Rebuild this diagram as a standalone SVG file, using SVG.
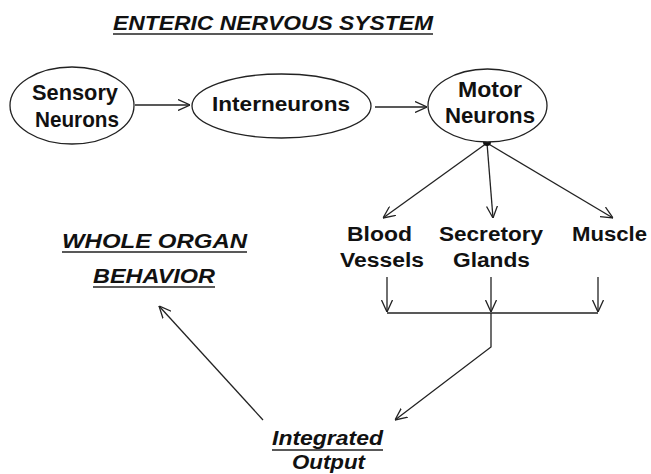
<svg xmlns="http://www.w3.org/2000/svg" width="651" height="474" viewBox="0 0 651 474">
<style>
.t{font-family:"Liberation Sans",Arial,sans-serif;font-weight:bold;fill:#111;text-anchor:middle}
.i{font-style:italic}
.n{fill:#fff;stroke:#222;stroke-width:1.3}
.c{fill:none;stroke:#222;stroke-width:1.3}
.u{stroke:#222;stroke-width:1.6}
</style>
<defs>
<marker id="ah" viewBox="0 0 12 12" refX="12" refY="6" markerWidth="12" markerHeight="12" markerUnits="userSpaceOnUse" orient="auto">
<path d="M0,0.5 L12,6 L0,11.5" fill="none" stroke="#222" stroke-width="1.3"/>
</marker>
</defs>
<rect width="651" height="474" fill="#fff"/>
<g id="title">
<text class="t i" x="273" y="30" font-size="20" textLength="320" lengthAdjust="spacingAndGlyphs">ENTERIC NERVOUS SYSTEM</text>
<line class="u" x1="113" y1="34" x2="433" y2="34"/>
</g>
<g id="connectors">
<line class="c" x1="135" y1="105" x2="190" y2="105" marker-end="url(#ah)"/>
<line class="c" x1="375" y1="107" x2="427" y2="107" marker-end="url(#ah)"/>
<line class="c" x1="487" y1="143" x2="383" y2="218" marker-end="url(#ah)"/>
<line class="c" x1="487" y1="143" x2="493" y2="218" marker-end="url(#ah)"/>
<line class="c" x1="487" y1="143" x2="613" y2="218" marker-end="url(#ah)"/>
<line class="c" x1="387" y1="277" x2="387" y2="312" marker-end="url(#ah)"/>
<line class="c" x1="491" y1="277" x2="491" y2="312" marker-end="url(#ah)"/>
<line class="c" x1="598" y1="277" x2="598" y2="312" marker-end="url(#ah)"/>
<polyline class="c" points="387,313 598,313"/>
<polyline class="c" points="491,313 491,347 395,420" marker-end="url(#ah)"/>
<line class="c" x1="263" y1="420" x2="159" y2="306" marker-end="url(#ah)"/>
<circle cx="487" cy="142" r="4" fill="#111"/>
</g>
<g id="sensory">
<ellipse class="n" cx="72" cy="105.5" rx="62" ry="38.5"/>
<text class="t" x="75" y="100" font-size="21.5" textLength="86" lengthAdjust="spacingAndGlyphs">Sensory</text>
<text class="t" x="77" y="127" font-size="21.5" textLength="84" lengthAdjust="spacingAndGlyphs">Neurons</text>
</g>
<g id="interneurons">
<ellipse class="n" cx="281.5" cy="106" rx="89.5" ry="32"/>
<text class="t" x="281" y="111" font-size="20.5" textLength="138" lengthAdjust="spacingAndGlyphs">Interneurons</text>
</g>
<g id="motor">
<ellipse class="n" cx="487.5" cy="105.5" rx="59.5" ry="36.5"/>
<text class="t" x="490" y="97" font-size="21.5" textLength="64" lengthAdjust="spacingAndGlyphs">Motor</text>
<text class="t" x="490" y="123" font-size="21.5" textLength="90" lengthAdjust="spacingAndGlyphs">Neurons</text>
</g>
<g id="blood">
<text class="t" x="379.5" y="241" font-size="20" textLength="65" lengthAdjust="spacingAndGlyphs">Blood</text>
<text class="t" x="382" y="267" font-size="20" textLength="84" lengthAdjust="spacingAndGlyphs">Vessels</text>
</g>
<g id="secretory">
<text class="t" x="491" y="241" font-size="20" textLength="104" lengthAdjust="spacingAndGlyphs">Secretory</text>
<text class="t" x="491.5" y="267" font-size="20" textLength="77" lengthAdjust="spacingAndGlyphs">Glands</text>
</g>
<g id="muscle">
<text class="t" x="609.5" y="241" font-size="20" textLength="75" lengthAdjust="spacingAndGlyphs">Muscle</text>
</g>
<g id="whole">
<text class="t i" x="154.5" y="248" font-size="20.5" textLength="185" lengthAdjust="spacingAndGlyphs">WHOLE ORGAN</text>
<line class="u" x1="62" y1="252" x2="247" y2="252"/>
<text class="t i" x="154" y="283" font-size="20.5" textLength="122" lengthAdjust="spacingAndGlyphs">BEHAVIOR</text>
<line class="u" x1="93" y1="287" x2="215" y2="287"/>
</g>
<g id="integrated">
<text class="t i" x="327.5" y="445" font-size="20.5" textLength="111" lengthAdjust="spacingAndGlyphs">Integrated</text>
<line class="u" x1="272" y1="450" x2="383" y2="450"/>
<text class="t i" x="328.5" y="469" font-size="20" textLength="73" lengthAdjust="spacingAndGlyphs">Output</text>
</g>
</svg>
